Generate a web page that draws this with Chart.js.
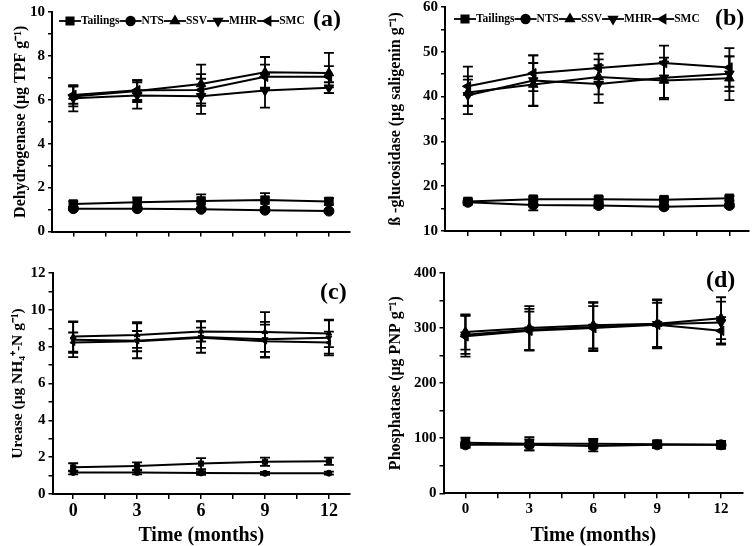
<!DOCTYPE html>
<html>
<head>
<meta charset="utf-8">
<script src="https://cdn.jsdelivr.net/npm/chart.js@4.4.1/dist/chart.umd.min.js"></script>
<style>
  html, body { margin: 0; padding: 0; background: #fff; }
  #wrap { position: relative; width: 756px; height: 546px; }
  #wrap canvas { position: absolute; left: 0; top: 0; }
</style>
</head>
<body>
<div id="wrap">
  <canvas id="pa" width="756" height="546"></canvas>
  <canvas id="pb" width="756" height="546"></canvas>
  <canvas id="pc" width="756" height="546"></canvas>
  <canvas id="pd" width="756" height="546"></canvas>
</div>
<script>
const months = [0, 3, 6, 9, 12];
const monthMinor = [0, 1.5, 3, 4.5, 6, 7.5, 9, 10.5, 12];
const seriesNames = ['Tailings', 'NTS', 'SSV', 'MHR', 'SMC'];

// (a) dehydrogenase, µg TPF g-1
const dehTailings = [1.25, 1.33, 1.39, 1.43, 1.37];
const dehTailingsErr = [0.12, 0.22, 0.30, 0.32, 0.15];
const dehNTS = [1.04, 1.04, 1.01, 0.97, 0.93];
const dehNTSErr = [0.06, 0.06, 0.06, 0.05, 0.06];
const dehSSV = [6.15, 6.40, 6.72, 7.25, 7.22];
const dehSSVErr = [0.45, 0.50, 0.88, 0.70, 0.92];
const dehMHR = [6.07, 6.20, 6.16, 6.42, 6.55];
const dehMHRErr = [0.60, 0.60, 0.80, 0.78, 0.25];
const dehSMC = [6.22, 6.44, 6.45, 7.05, 7.05];
const dehSMCErr = [0.40, 0.45, 0.72, 0.55, 0.48];

// (b) beta-glucosidase, µg saligenin g-1
const gluTailings = [16.6, 17.1, 17.1, 17.0, 17.3];
const gluTailingsErr = [0.5, 0.5, 0.5, 0.4, 0.5];
const gluNTS = [16.4, 15.8, 15.7, 15.4, 15.7];
const gluNTSErr = [0.4, 1.2, 0.6, 0.4, 0.4];
const gluSSV = [40.9, 42.7, 44.4, 43.6, 44.1];
const gluSSVErr = [2.9, 4.8, 3.9, 4.2, 4.9];
const gluMHR = [40.3, 43.6, 42.8, 44.2, 45.1];
const gluMHRErr = [4.2, 5.6, 4.2, 4.5, 3.9];
const gluSMC = [42.3, 45.2, 46.4, 47.5, 46.5];
const gluSMCErr = [4.4, 4.0, 3.2, 3.9, 4.3];

// (c) urease, µg NH4+-N g-1
const ureTailings = [1.45, 1.52, 1.65, 1.75, 1.78];
const ureTailingsErr = [0.22, 0.20, 0.30, 0.22, 0.20];
const ureNTS = [1.17, 1.17, 1.14, 1.12, 1.13];
const ureNTSErr = [0.10, 0.10, 0.10, 0.08, 0.08];
const ureSSV = [8.55, 8.63, 8.83, 8.80, 8.72];
const ureSSVErr = [0.82, 0.70, 0.55, 1.08, 0.75];
const ureMHR = [8.38, 8.32, 8.52, 8.40, 8.48];
const ureMHRErr = [0.95, 0.95, 0.85, 0.95, 0.95];
const ureSMC = [8.22, 8.30, 8.48, 8.30, 8.22];
const ureSMCErr = [0.55, 0.55, 0.55, 0.90, 0.60];

// (d) phosphatase, µg PNP g-1
const phoTailings = [92, 90, 90, 89, 88];
const phoTailingsErr = [9, 12, 9, 7, 7];
const phoNTS = [88, 88, 86, 88, 88];
const phoNTSErr = [5, 10, 10, 5, 5];
const phoSSV = [293, 300, 305, 308, 318];
const phoSSVErr = [32, 40, 42, 44, 38];
const phoMHR = [288, 297, 302, 307, 310];
const phoMHRErr = [35, 38, 44, 44, 38];
const phoSMC = [285, 295, 300, 306, 295];
const phoSMCErr = [37, 35, 40, 40, 25];

const dehTicks = [0, 2, 4, 6, 8, 10];
const gluTicks = [10, 20, 30, 40, 50, 60];
const ureTicks = [0, 2, 4, 6, 8, 10, 12];
const phoTicks = [0, 100, 200, 300, 400];

const SERIF = "'Liberation Serif', 'Times New Roman', serif";
const markers = [
  { style: 'rect', rot: 0, scale: 1.2 },
  { style: 'circle', rot: 0, scale: 1 },
  { style: 'triangle', rot: 0, scale: 1.1 },
  { style: 'triangle', rot: 180, scale: 1.1 },
  { style: 'triangle', rot: 270, scale: 1.1 }
];

function minorSteps(major) {
  const out = [];
  for (let i = 0; i < major.length; i++) {
    out.push(major[i]);
    if (i < major.length - 1) out.push((major[i] + major[i + 1]) / 2);
  }
  return out;
}

const errorBars = {
  id: 'errorBars',
  afterDatasetsDraw(chart) {
    const ctx = chart.ctx;
    const ys = chart.scales.y;
    ctx.save();
    ctx.strokeStyle = '#000';
    ctx.lineWidth = 1.8;
    chart.data.datasets.forEach((ds, i) => {
      const meta = chart.getDatasetMeta(i);
      meta.data.forEach((pt, j) => {
        const v = ds.data[j].y, e = ds.errors[j];
        const t = ys.getPixelForValue(v + e), b = ys.getPixelForValue(v - e);
        ctx.beginPath();
        ctx.moveTo(pt.x, t); ctx.lineTo(pt.x, b);
        ctx.moveTo(pt.x - 5, t); ctx.lineTo(pt.x + 5, t);
        ctx.moveTo(pt.x - 5, b); ctx.lineTo(pt.x + 5, b);
        ctx.stroke();
      });
    });
    ctx.restore();
  }
};

const panelDecor = {
  id: 'panelDecor',
  afterDraw(chart, args, opts) {
    const ctx = chart.ctx;
    ctx.save();
    ctx.fillStyle = '#000';
    ctx.textBaseline = 'middle';
    ctx.font = 'bold 24px ' + SERIF;
    ctx.fillText(opts.label, opts.labelX, opts.labelY);
    if (opts.legend) {
      ctx.font = 'bold 11.5px ' + SERIF;
      let x = opts.legendX;
      const y = opts.legendY;
      chart.data.datasets.forEach((ds, i) => {
        ctx.strokeStyle = '#000';
        ctx.lineWidth = 1.8;
        ctx.beginPath();
        ctx.moveTo(x, y); ctx.lineTo(x + 22, y);
        ctx.stroke();
        Chart.helpers.drawPoint(ctx, {
          pointStyle: markers[i].style,
          rotation: markers[i].rot,
          radius: 4.3 * markers[i].scale,
          borderWidth: 1
        }, x + 11, y);
        ctx.fillStyle = '#000';
        ctx.fill();
        x += 22;
        ctx.fillText(ds.label, x, y + 0.5);
        x += ctx.measureText(ds.label).width;
      });
    }
    ctx.restore();
  }
};

function makePanel(id, p) {
  const datasets = p.series.map((vals, i) => ({
    label: seriesNames[i],
    data: months.map((m, j) => ({ x: m, y: vals[j] })),
    errors: p.errors[i],
    borderColor: '#000',
    backgroundColor: '#000',
    borderWidth: 2,
    pointStyle: markers[i].style,
    pointRotation: markers[i].rot,
    pointRadius: p.radius * markers[i].scale,
    pointBackgroundColor: '#000',
    pointBorderColor: '#000',
    pointBorderWidth: 1,
    fill: false,
    tension: 0,
    clip: false
  }));
  const a = p.area;
  new Chart(document.getElementById(id), {
    type: 'line',
    data: { datasets },
    plugins: [errorBars, panelDecor],
    options: {
      responsive: false,
      animation: false,
      devicePixelRatio: 1,
      layout: {
        padding: { left: a.l - p.yw, top: a.t, right: 756 - a.r, bottom: 546 - a.b - p.xh }
      },
      plugins: {
        legend: { display: false },
        tooltip: { enabled: false },
        panelDecor: p.decor
      },
      scales: {
        x: {
          type: 'linear',
          min: p.xmin, max: p.xmax,
          afterBuildTicks: s => { s.ticks = monthMinor.map(v => ({ value: v })); },
          afterFit: s => { s.height = p.xh; s.paddingLeft = 0; s.paddingRight = 0; },
          border: { display: true, color: '#000', width: 2 },
          grid: { drawOnChartArea: false, drawTicks: true, tickLength: 5, color: '#000', lineWidth: 1.5 },
          ticks: {
            autoSkip: false, maxRotation: 0, padding: 2, color: '#000',
            font: { family: SERIF, weight: 'bold', size: p.xFont },
            callback: v => (p.xLabels && months.includes(v)) ? String(v) : ''
          },
          title: {
            display: !!p.xTitle, text: p.xTitle || '', color: '#000',
            font: { family: SERIF, weight: 'bold', size: 20, lineHeight: 1 },
            padding: 0
          }
        },
        y: {
          type: 'linear',
          min: p.yTicks[0], max: p.yTicks[p.yTicks.length - 1],
          afterBuildTicks: s => { s.ticks = minorSteps(p.yTicks).map(v => ({ value: v })); },
          afterFit: s => { s.width = p.yw; s.paddingTop = 0; s.paddingBottom = 0; },
          border: { display: true, color: '#000', width: 2 },
          grid: { drawOnChartArea: false, drawTicks: true, tickLength: 4, color: '#000', lineWidth: 1.5 },
          ticks: {
            autoSkip: false, padding: 3, color: '#000',
            font: { family: SERIF, weight: 'bold', size: p.yFont },
            callback: v => p.yTicks.includes(v) ? String(v) : ''
          },
          title: {
            display: true, text: p.yTitle, color: '#000',
            font: { family: SERIF, weight: 'bold', size: p.yTitleSize, lineHeight: 1 },
            padding: { top: p.yTitlePad, bottom: 0 }
          }
        }
      }
    }
  });
}

makePanel('pa', {
  series: [dehTailings, dehNTS, dehSSV, dehMHR, dehSMC],
  errors: [dehTailingsErr, dehNTSErr, dehSSVErr, dehMHRErr, dehSMCErr],
  yTicks: dehTicks, area: { l: 52, r: 350, t: 12, b: 231.5 },
  yw: 52, xh: 20, xmin: -1.0, xmax: 12.99, radius: 5,
  xLabels: false, xFont: 14, yFont: 15,
  yTitle: 'Dehydrogenase (μg TPF g⁻¹)', yTitleSize: 16, yTitlePad: 13,
  decor: { label: '(a)', labelX: 313, labelY: 20, legend: true, legendX: 59, legendY: 21 }
});

makePanel('pb', {
  series: [gluTailings, gluNTS, gluSSV, gluMHR, gluSMC],
  errors: [gluTailingsErr, gluNTSErr, gluSSVErr, gluMHRErr, gluSMCErr],
  yTicks: gluTicks, area: { l: 445, r: 751, t: 6, b: 231 },
  yw: 67, xh: 20, xmin: -1.05, xmax: 12.9, radius: 5,
  xLabels: false, xFont: 14, yFont: 15,
  yTitle: 'ß -glucosidase (μg saligenin g⁻¹)', yTitleSize: 16, yTitlePad: 10,
  decor: { label: '(b)', labelX: 715, labelY: 19, legend: true, legendX: 454, legendY: 19 }
});

makePanel('pc', {
  series: [ureTailings, ureNTS, ureSSV, ureMHR, ureSMC],
  errors: [ureTailingsErr, ureNTSErr, ureSSVErr, ureMHRErr, ureSMCErr],
  yTicks: ureTicks, area: { l: 52.5, r: 350, t: 273, b: 494 },
  yw: 52.5, xh: 52, xmin: -0.97, xmax: 12.99, radius: 3,
  xLabels: true, xFont: 18, yFont: 15, xTitle: 'Time (months)',
  yTitle: 'Urease (μg NH₄⁺-N g⁻¹)', yTitleSize: 15.5, yTitlePad: 10,
  decor: { label: '(c)', labelX: 320, labelY: 293, legend: false }
});

makePanel('pd', {
  series: [phoTailings, phoNTS, phoSSV, phoMHR, phoSMC],
  errors: [phoTailingsErr, phoNTSErr, phoSSVErr, phoMHRErr, phoSMCErr],
  yTicks: phoTicks, area: { l: 443.5, r: 743, t: 273, b: 493.3 },
  yw: 65.5, xh: 52.7, xmin: -1.03, xmax: 13.03, radius: 5,
  xLabels: true, xFont: 15, yFont: 15, xTitle: 'Time (months)',
  yTitle: 'Phosphatase (μg PNP g⁻¹)', yTitleSize: 16, yTitlePad: 10,
  decor: { label: '(d)', labelX: 706, labelY: 281, legend: false }
});
</script>
</body>
</html>
